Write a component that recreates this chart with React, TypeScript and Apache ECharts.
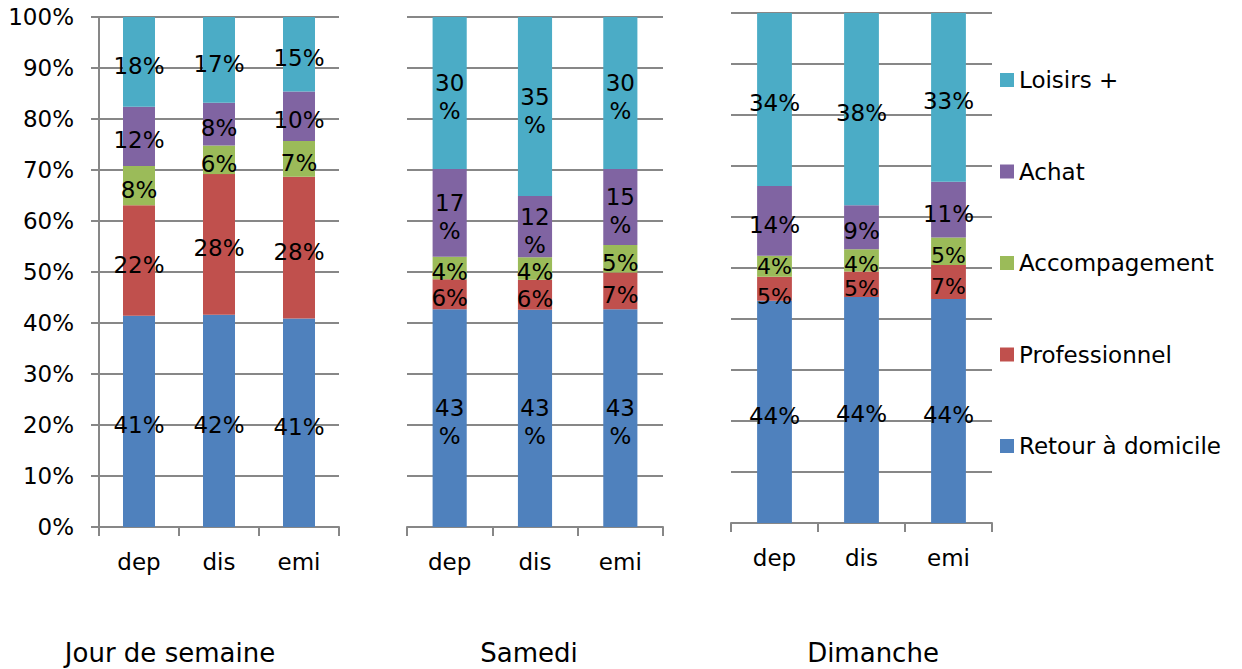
import React, { useEffect, useRef } from "react";
import * as echarts from "echarts";

const categories = ["dep", "dis", "emi"];
const seriesNames = ["Retour à domicile", "Professionnel", "Accompagement", "Achat", "Loisirs +"];
const seriesColors = ["#4F81BD", "#C0504D", "#9BBB59", "#8064A2", "#4BACC6"];
const legendOrder = ["Loisirs +", "Achat", "Accompagement", "Professionnel", "Retour à domicile"];
const panelTitles = ["Jour de semaine", "Samedi", "Dimanche"];
const yTicks = [0, 10, 20, 30, 40, 50, 60, 70, 80, 90, 100];

// Jour de semaine (dep, dis, emi)
const semaineRetour = [41.4, 41.6, 40.9];
const semainePro = [21.7, 27.6, 27.8];
const semaineAcc = [7.7, 5.6, 7.0];
const semaineAchat = [11.6, 8.4, 9.7];
const semaineLoisirs = [17.6, 16.8, 14.6];

// Samedi
const samediRetour = [42.7, 42.6, 42.7];
const samediPro = [5.9, 5.9, 7.2];
const samediAcc = [4.4, 4.4, 5.4];
const samediAchat = [17.2, 12.0, 14.9];
const samediLoisirs = [29.8, 35.1, 29.8];

// Dimanche
const dimancheRetour = [43.6, 44.3, 43.9];
const dimanchePro = [4.7, 5.0, 6.7];
const dimancheAcc = [4.1, 4.4, 5.4];
const dimancheAchat = [13.7, 8.6, 10.9];
const dimancheLoisirs = [33.9, 37.7, 33.1];

const panels = [
  [semaineRetour, semainePro, semaineAcc, semaineAchat, semaineLoisirs],
  [samediRetour, samediPro, samediAcc, samediAchat, samediLoisirs],
  [dimancheRetour, dimanchePro, dimancheAcc, dimancheAchat, dimancheLoisirs],
];

const FONT = "DejaVu Sans";
const GRIDC = "#878787";

export default function App() {
  const ref = useRef<HTMLDivElement>(null);
  useEffect(() => {
    if (!ref.current) return;
    const chart = echarts.init(ref.current, undefined, { renderer: "svg" });
    const grids = [
      { left: 99, top: 17, width: 240, height: 510 },
      { left: 407, top: 17, width: 256, height: 510 },
      { left: 731, top: 13, width: 261, height: 510 },
    ];
    const xAxes = grids.map((_, i) => ({
      type: "category",
      gridIndex: i,
      data: categories,
      axisLine: { show: true, lineStyle: { color: GRIDC, width: 2 } },
      axisTick: { show: true, length: 9, lineStyle: { color: GRIDC, width: 2 } },
      axisLabel: { color: "#000", fontSize: 23, fontFamily: FONT, margin: 23 },
    }));
    const yAxes = grids.map((_, i) => ({
      type: "value",
      gridIndex: i,
      min: yTicks[0],
      max: yTicks[yTicks.length - 1],
      interval: 10,
      axisLine: { show: i === 0, lineStyle: { color: GRIDC, width: 2 } },
      axisTick: { show: i === 0, length: 8, lineStyle: { color: GRIDC, width: 2 } },
      axisLabel: {
        show: i === 0,
        color: "#000",
        fontSize: 23,
        fontFamily: FONT,
        margin: 25,
        formatter: "{value}%",
      },
      splitLine: { show: true, lineStyle: { color: GRIDC, width: 2 } },
    }));
    const series: any[] = [];
    panels.forEach((panel, pi) => {
      panel.forEach((vals, si) => {
        series.push({
          type: "bar",
          name: seriesNames[si],
          stack: "p" + pi,
          xAxisIndex: pi,
          yAxisIndex: pi,
          barWidth: "40%",
          data: vals.map((v, ci) => {
            // nudge the two touching small labels of Dimanche/dep apart
            if (pi === 2 && ci === 0 && si === 1) return { value: v, label: { offset: [0, 8] } };
            if (pi === 2 && ci === 0 && si === 2) return { value: v, label: { offset: [0, 0] } };
            return v;
          }),
          itemStyle: { color: seriesColors[si] },
          label: {
            show: true,
            position: "inside",
            offset: [0, 4],
            color: "#000",
            fontSize: pi === 2 && (si === 1 || si === 2) ? 22 : 23,
            fontFamily: FONT,
            lineHeight: pi === 1 ? 28 : 20,
            formatter: (p: any) => {
              const r = Math.round(p.value);
              return pi === 1 && r >= 10 ? `${r}\n%` : `${r}%`;
            },
          },
        });
      });
    });
    const titleX = [170, 529, 873];
    chart.setOption({
      animation: false,
      grid: grids,
      xAxis: xAxes,
      yAxis: yAxes,
      legend: {
        orient: "vertical",
        left: 1000,
        top: 68.5,
        padding: 0,
        itemWidth: 14,
        itemHeight: 14,
        itemGap: 68.5,
        icon: "rect",
        data: legendOrder,
        textStyle: { color: "#000", fontSize: 23, fontFamily: FONT, lineHeight: 23 },
      },
      graphic: panelTitles.map((t, i) => ({
        type: "text",
        x: titleX[i],
        y: 653,
        style: {
          text: t,
          fill: "#000",
          fontSize: 26,
          fontFamily: FONT,
          align: "center",
          verticalAlign: "middle",
        },
      })),
      series,
    });
    return () => chart.dispose();
  }, []);
  return (
    <div
      ref={ref}
      style={{ position: "absolute", left: 0, top: 0, width: 1242, height: 669, background: "#fff" }}
    />
  );
}
